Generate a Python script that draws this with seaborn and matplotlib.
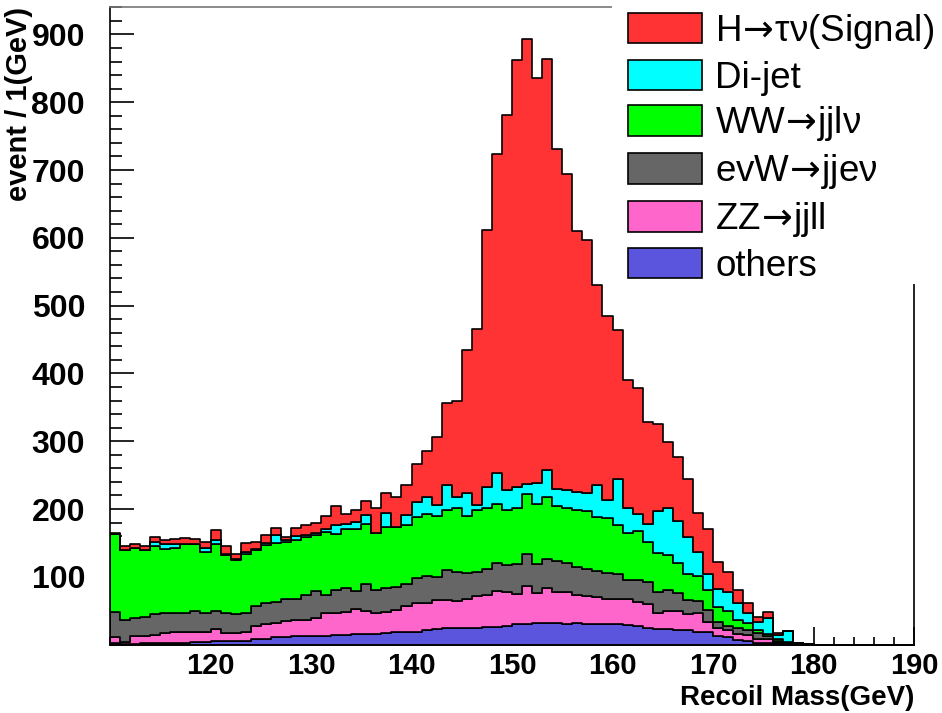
import numpy as np
import pandas as pd
import matplotlib
matplotlib.use("Agg")
import matplotlib.pyplot as plt
import seaborn as sns
from matplotlib.patches import Patch, Rectangle
from matplotlib.ticker import MultipleLocator

# bin low edges (GeV), 1 GeV bins from 110 to 179
mass_low = np.arange(110, 180)

# events per bin for each process
signal = [2, 5, 5, 5, 7, 7, 7, 9, 7, 9, 14, 11, 6, 14, 11, 11, 11, 5, 12, 14,
          15, 19, 28, 14, 17, 21, 37, 30, 44, 45, 57, 68, 100, 120, 142, 210, 260, 379, 471, 553,
          629, 656, 598, 606, 502, 466, 385, 374, 294, 270, 220, 189, 185, 150, 129, 97, 94, 86, 57, 66,
          40, 30, 19, 15, 7, 8, 3, 0, 0, 0]
dijet = [0, 1, 1, 1, 7, 7, 6, 0, 1, 6, 7, 2, 2, 2, 2, 3, 11, 2, 5, 4,
         4, 4, 13, 8, 10, 13, 0, 20, 0, 15, 22, 24, 17, 37, 17, 35, 8, 32, 46, 30,
         31, 15, 30, 40, 25, 26, 26, 26, 48, 27, 68, 37, 25, 26, 62, 70, 63, 54, 36, 23,
         27, 28, 25, 15, 12, 24, 5, 16, 1, 0]
ww_jjlv = [115, 102, 102, 98, 100, 95, 96, 101, 98, 90, 98, 85, 80, 87, 82, 85, 87, 85, 87, 85,
           82, 93, 83, 87, 92, 89, 84, 91, 88, 87, 90, 92, 90, 89, 94, 84, 91, 89, 87, 81,
           83, 89, 89, 90, 80, 81, 84, 85, 79, 82, 72, 70, 73, 59, 57, 52, 44, 38, 37, 30,
           21, 21, 13, 10, 5, 4, 3, 1, 1, 1]
evw_jjev = [37, 33, 28, 29, 31, 29, 29, 29, 32, 29, 27, 30, 28, 29, 30, 32, 31, 32, 32, 36,
            40, 27, 33, 35, 26, 39, 34, 35, 34, 32, 37, 40, 33, 44, 43, 38, 36, 39, 41, 40,
            44, 47, 43, 43, 46, 44, 42, 41, 39, 37, 36, 28, 32, 33, 31, 30, 26, 21, 18, 17,
            9, 6, 9, 8, 9, 4, 2, 1, 0, 0]
zz_jjll = [9, 3, 11, 10, 12, 14, 15, 15, 14, 14, 18, 12, 12, 13, 19, 21, 21, 24, 24, 25,
           26, 33, 33, 34, 38, 35, 30, 31, 33, 39, 42, 40, 43, 42, 40, 42, 46, 47, 53, 50,
           45, 56, 44, 52, 46, 46, 41, 40, 39, 37, 38, 38, 36, 36, 24, 27, 29, 24, 28, 16,
           12, 11, 8, 8, 5, 5, 2, 1, 1, 0]
others = [2, 1, 1, 2, 2, 3, 3, 3, 4, 4, 5, 5, 5, 5, 8, 9, 11, 11, 12, 12,
          13, 13, 14, 14, 15, 15, 16, 17, 18, 18, 19, 21, 23, 24, 24, 25, 25, 26, 26, 27,
          30, 30, 32, 32, 32, 31, 32, 31, 31, 31, 30, 29, 27, 24, 23, 23, 21, 21, 18, 18,
          13, 11, 7, 6, 3, 3, 2, 1, 0, 0]

# long arrow as in the ROOT legend, trimming the relation spacing of mathtext
arrow = r"$\!\rightarrow\!$"
labels = ["H" + arrow + "τν(Signal)", "Di-jet", "WW" + arrow + "jjlν",
          "evW" + arrow + "jjeν", "ZZ" + arrow + "jjll", "others"]
colors = ["#ff3333", "#00ffff", "#00ff00", "#666666", "#ff66cc", "#5b54dc"]

series = [signal, dijet, ww_jjlv, evw_jjev, zz_jjll, others]
frames = []
for lab, vals in zip(labels, series):
    frames.append(pd.DataFrame({"mass": mass_low + 0.5, "events": np.asarray(vals, dtype=float),
                                "process": lab}))
df = pd.concat(frames, ignore_index=True)

sns.set_style("ticks")
plt.rcParams["font.family"] = ["Liberation Sans", "DejaVu Sans"]
plt.rcParams["text.color"] = "black"
plt.rcParams["axes.labelcolor"] = "black"
plt.rcParams["xtick.color"] = "black"
plt.rcParams["ytick.color"] = "black"

fig = plt.figure(figsize=(9.42, 7.13), dpi=100)
ax = fig.add_axes([0.1168, 0.0959, 0.8535, 0.8939])

# seaborn stacks the first hue level on top
sns.histplot(data=df, x="mass", weights="events", hue="process", hue_order=labels,
             palette=dict(zip(labels, colors)), multiple="stack", element="step",
             binwidth=1, binrange=(110, 190), alpha=1, edgecolor="black", linewidth=1.2,
             legend=False, ax=ax)

ax.set_xlim(110, 190)
ax.set_ylim(0, 940)
ax.set_xticks(np.arange(120, 191, 10))
ax.set_yticks(np.arange(100, 901, 100))
ax.xaxis.set_minor_locator(MultipleLocator(2))
ax.yaxis.set_minor_locator(MultipleLocator(20))
ax.tick_params(axis="y", which="major", direction="in", length=17, width=1.2, pad=18,
               labelsize=23, colors="black")
ax.tick_params(axis="y", which="minor", direction="in", length=8.5, width=1.2, colors="black")
ax.tick_params(axis="x", which="major", direction="in", length=13, width=1.2, pad=5,
               labelsize=21, colors="black")
ax.tick_params(axis="x", which="minor", direction="in", length=6, width=1.2, colors="black")
for lab in ax.get_xticklabels() + ax.get_yticklabels():
    lab.set_fontweight("bold")
for sp in ax.spines.values():
    sp.set_linewidth(1.2)
    sp.set_color("black")
ax.spines["top"].set_color("#777777")

ax.set_xlabel("Recoil Mass(GeV)", fontsize=20, fontweight="bold", loc="right", labelpad=4,
              color="black")
ax.set_ylabel("event / 1(GeV)", fontsize=21, fontweight="bold", loc="top", color="black")
ax.yaxis.set_label_coords(-0.0958, 1.0)

# white legend pad covering the upper right corner, as in the original
fig.add_artist(Rectangle((612 / 942, 1 - 284 / 713), 330 / 942, 284 / 713,
                         transform=fig.transFigure, facecolor="white",
                         edgecolor="none", zorder=5))
handles = [Patch(facecolor=c, edgecolor="black", linewidth=1.2) for c in colors]
leg = fig.legend(handles, labels, loc="upper left",
                 bbox_to_anchor=(628 / 942, 1 - 11.8 / 713),
                 frameon=False, fontsize=26.5, handlelength=2.01, handleheight=0.9,
                 handletextpad=0.36, labelspacing=0.24, borderaxespad=0, borderpad=0,
                 labelcolor="black")
leg.set_zorder(6)

fig.savefig("out.png", dpi=100)
